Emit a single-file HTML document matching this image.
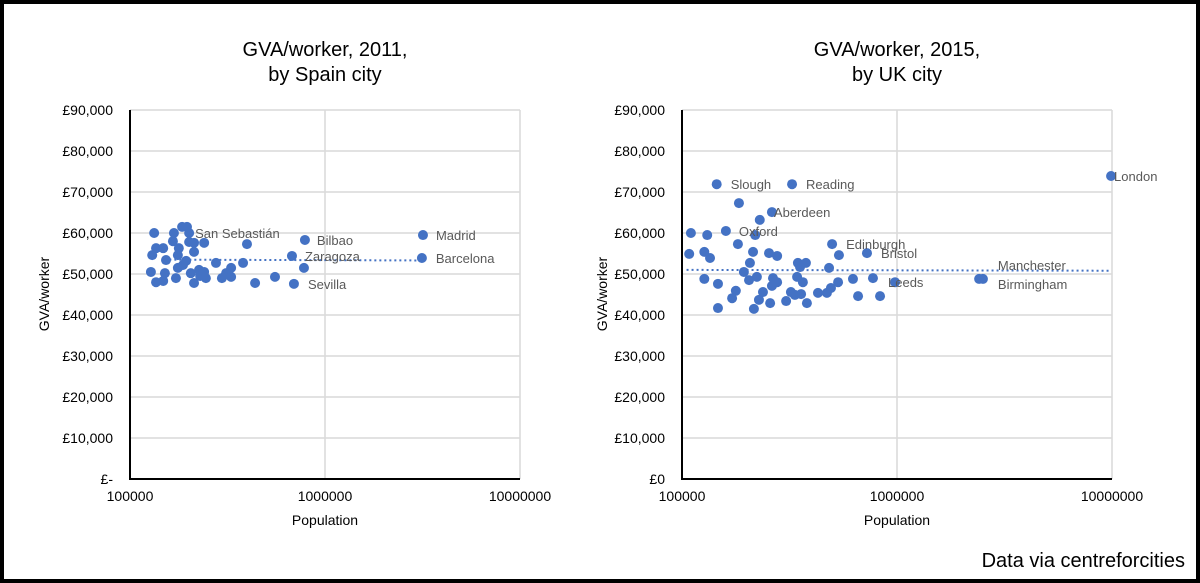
<!DOCTYPE html>
<html><head><meta charset="utf-8"><style>
html,body{margin:0;padding:0;background:#fff}
svg{display:block;font-family:"Liberation Sans",Arial,sans-serif}
</style></head><body>
<svg id="c" width="1200" height="583" viewBox="0 0 1200 583">
<rect x="2" y="2" width="1196" height="579" fill="#fff" stroke="#000" stroke-width="4"/>
<text x="1185" y="567" text-anchor="end" font-size="20" fill="#000">Data via centreforcities</text>
</svg>
<script>
const spainPop=[133e3,136e3,148e3,130e3,153e3,128e3,136e3,151e3,148e3,168e3,166e3,185e3,196e3,201e3,178e3,176e3,201e3,213e3,213e3,240e3,194e3,187e3,176e3,172e3,205e3,226e3,240e3,229e3,245e3,213e3,276e3,330e3,311e3,296e3,330e3,380e3,398e3,438e3,554e3,677e3,789e3,780e3,693e3,3180e3,3140e3];
const spainGva=[60000,56300,56300,54600,53400,50500,48000,50200,48300,60000,58000,61500,61500,60000,56300,54600,57800,57600,55400,57600,53200,52200,51500,49000,50200,51000,50500,49500,49000,47800,52700,51500,50200,49000,49300,52700,57300,47800,49300,54400,58300,51500,47600,59500,53900];
const spainLabels=[{i:13,t:"San Sebastián",dx:6},{i:40,t:"Bilbao",dx:12},{i:39,t:"Zaragoza",dx:13},{i:43,t:"Madrid",dx:13},{i:44,t:"Barcelona",dx:14},{i:42,t:"Sevilla",dx:14}];
const spainTrendPop=[150e3,3200e3];
const spainTrendGva=[53500,53300];

const ukPop=[145e3,325e3,184e3,262e3,230e3,110e3,131e3,160e3,219e3,108e3,127e3,135e3,182e3,214e3,207e3,194e3,254e3,277e3,127e3,147e3,178e3,171e3,147e3,205e3,223e3,238e3,228e3,216e3,257e3,265e3,277e3,262e3,305e3,321e3,335e3,358e3,346e3,377e3,354e3,343e3,365e3,381e3,429e3,472e3,493e3,483e3,532e3,499e3,537e3,624e3,659e3,725e3,773e3,834e3,979e3,9900e3,2410e3,2510e3];
const ukGva=[71900,71900,67300,65100,63200,60000,59500,60500,59500,54900,55400,53900,57300,55400,52700,50500,55100,54400,48800,47600,45900,44100,41700,48500,49300,45600,43700,41500,42900,49000,48000,47100,43400,45600,44900,45100,52700,52700,51700,49300,48000,42900,45400,45400,46600,51500,48000,57300,54600,48800,44600,55100,49000,44600,48000,73900,48800,48800];
const ukLabels=[{i:0,t:"Slough",dx:14},{i:1,t:"Reading",dx:14},{i:3,t:"Aberdeen",dx:2},{i:7,t:"Oxford",dx:13},{i:47,t:"Edinburgh",dx:14},{i:51,t:"Bristol",dx:14},{i:54,t:"Leeds",dx:-7},{i:55,t:"London",dx:3},{i:57,t:"Manchester",dx:15,dy:-14},{i:57,t:"Birmingham",dx:15,dy:5}];
const ukTrendPop=[105e3,9800e3];
const ukTrendGva=[51000,50800];

const yTicks=[0,10000,20000,30000,40000,50000,60000,70000,80000,90000];
const xTicks=[100000,1000000,10000000];
const NS="http://www.w3.org/2000/svg";
const svg=document.getElementById('c');
function mk(tag,attrs,parent){const e=document.createElementNS(NS,tag);for(const k in attrs)e.setAttribute(k,attrs[k]);(parent||svg).appendChild(e);return e;}

function chart(cfg){
  const g=mk('g',{});
  
  
  const x0=cfg.x0,x1=cfg.x1,yb=479,yt=110;
  const sx=v=>x0+(Math.log10(v)-5)/2*(x1-x0);
  const sy=v=>yb-v/90000*(yb-yt);
  yTicks.forEach(t=>{
    const l=mk('line',{x1:x0,x2:x1,y1:sy(t),y2:sy(t),stroke:'#d9d9d9','stroke-width':1.5},g);
    
    
    const tx=mk('text',{x:x0-17,y:sy(t)+5,'text-anchor':'end','font-size':14,fill:'#000'},g);
    
    
    tx.textContent=t===0?cfg.zero:'£'+t.toLocaleString('en-US');
  });
  xTicks.forEach(t=>{
    const l=mk('line',{x1:sx(t),x2:sx(t),y1:yt,y2:yb,stroke:'#d9d9d9','stroke-width':1.5},g);
    
    
    const tx=mk('text',{x:sx(t),y:501,'text-anchor':'middle','font-size':14,fill:'#000'},g);
    
    
    tx.textContent=String(t);
  });
  const ax=mk('path',{d:`M${x0},${yt} V${yb} H${x1}`,fill:'none',stroke:'#000','stroke-width':2},g);
  
  
  const tl=mk('line',{x1:sx(cfg.tp[0]),x2:sx(cfg.tp[1]),y1:sy(cfg.tg[0]),y2:sy(cfg.tg[1]),stroke:'#4472C4','stroke-width':2,'stroke-dasharray':'2 3'},g);
  
  
  cfg.pop.forEach((p,i)=>{
    const c=mk('circle',{cx:sx(p),cy:sy(cfg.gva[i]),r:5,fill:'#4472C4'},g);
    
    
  });
  cfg.labels.forEach(L=>{
    const tx=mk('text',{x:sx(cfg.pop[L.i])+L.dx,y:sy(cfg.gva[L.i])+5+(L.dy||0),'font-size':13,fill:'#595959'},g);
    
    
    tx.textContent=L.t;
  });
  const cx=(x0+x1)/2;
  cfg.title.forEach((s,k)=>{
    const tx=mk('text',{x:cx,y:56+k*25,'text-anchor':'middle','font-size':20,fill:'#000'},g);
    
    
    tx.textContent=s;
  });
  const xt=mk('text',{x:cx,y:525,'text-anchor':'middle','font-size':14,fill:'#000'},g);
  
  
  xt.textContent='Population';
  const yx=cfg.ytx;
  const yt2=mk('text',{x:yx,y:294,'text-anchor':'middle','font-size':14,fill:'#000',transform:`rotate(-90 ${yx} 294)`},g);
  
  
  yt2.textContent='GVA/worker';
}
chart({name:'spain-chart',x0:130,x1:520,zero:'£-',pop:spainPop,gva:spainGva,labels:spainLabels,tp:spainTrendPop,tg:spainTrendGva,title:['GVA/worker, 2011,','by Spain city'],ytx:49});
chart({name:'uk-chart',x0:682,x1:1112,zero:'£0',pop:ukPop,gva:ukGva,labels:ukLabels,tp:ukTrendPop,tg:ukTrendGva,title:['GVA/worker, 2015,','by UK city'],ytx:607});
</script>
</body></html>
